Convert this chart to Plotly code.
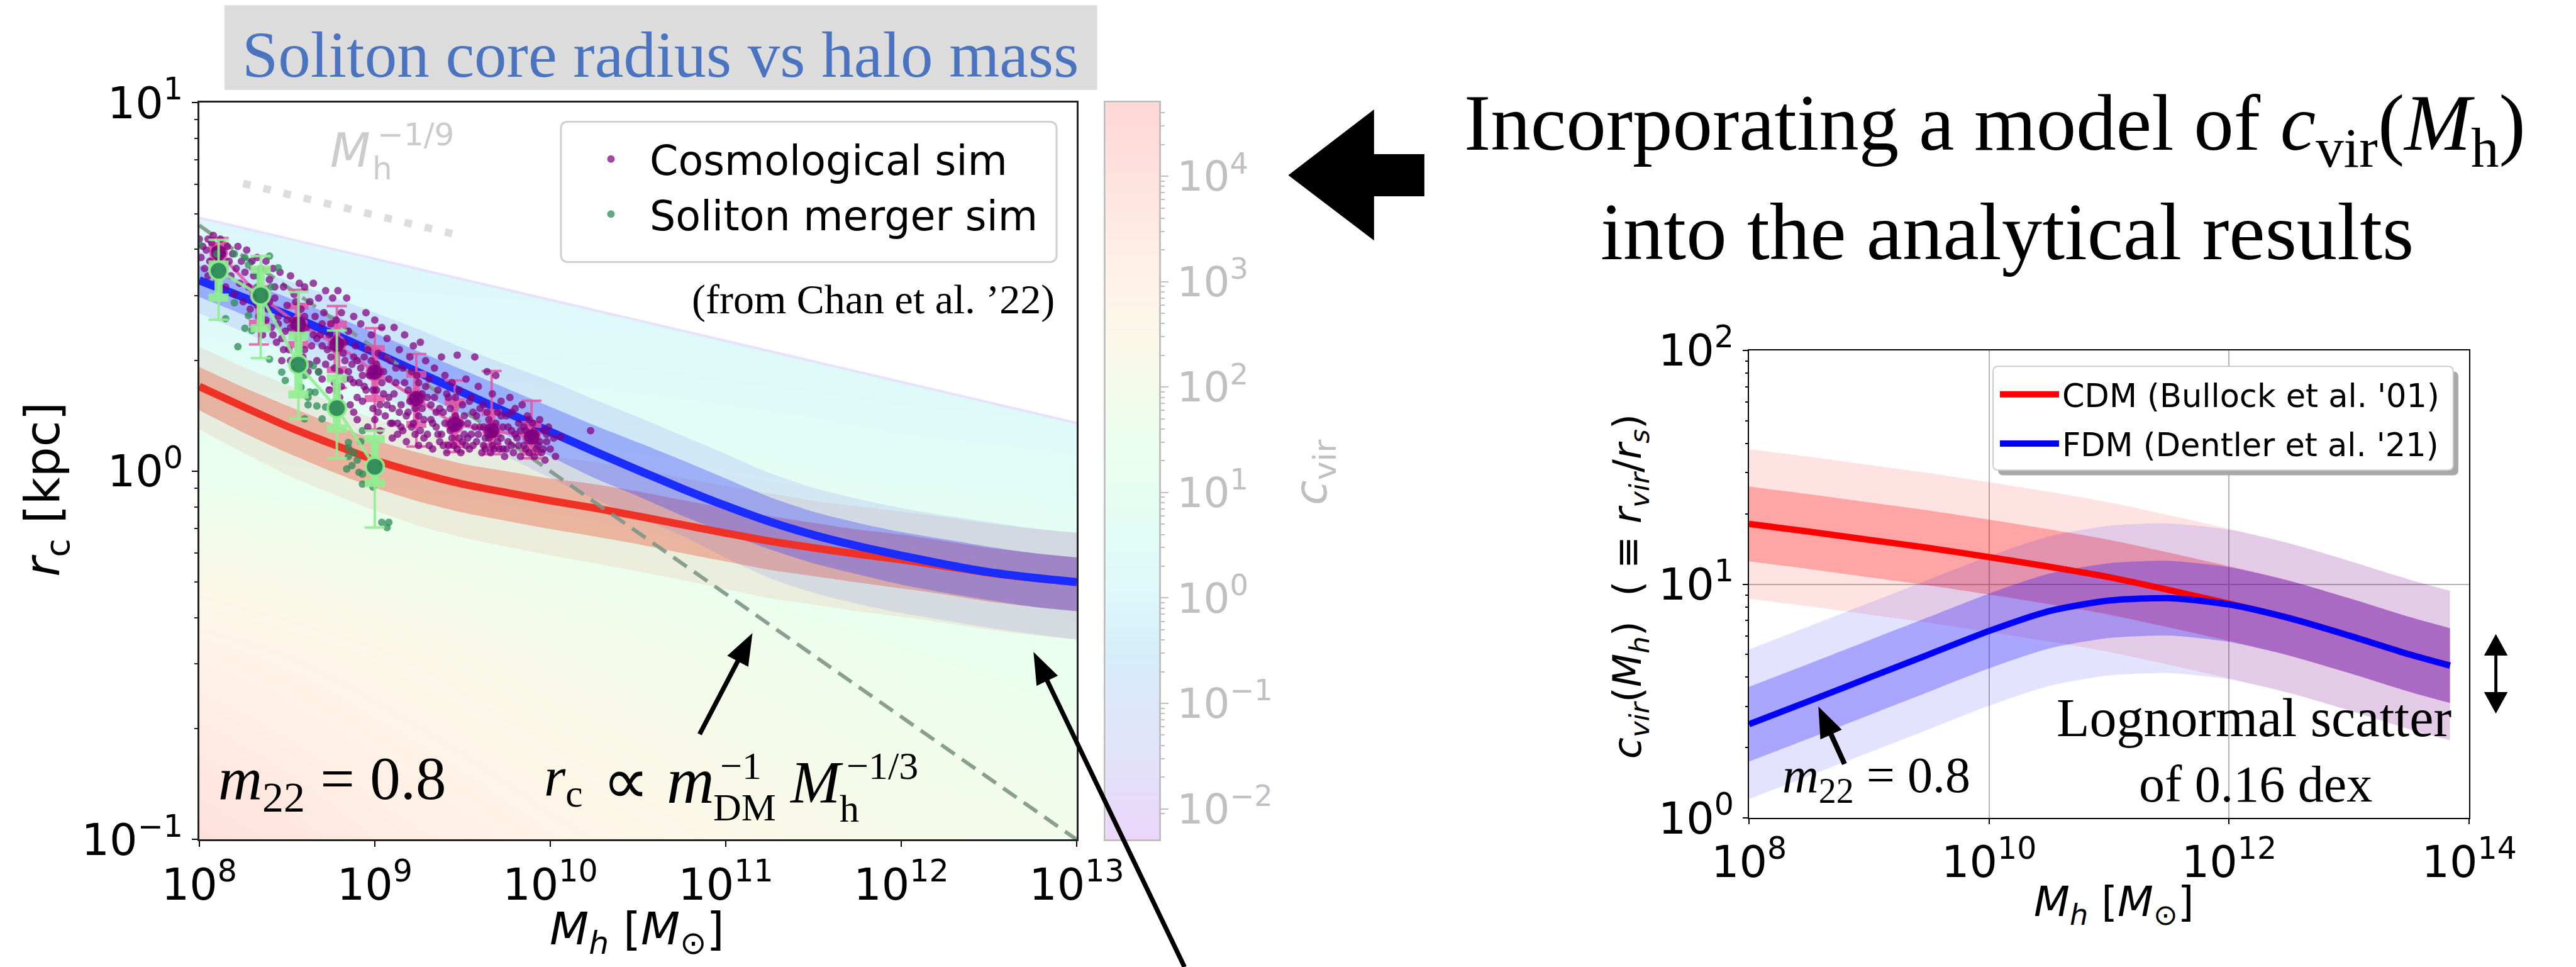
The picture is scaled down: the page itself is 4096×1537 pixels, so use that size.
import plotly.graph_objects as go

# ---------- data (log10 values) ----------
LOG_M = [8,8.25,8.5,8.75,9,9.25,9.5,9.75,10,10.25,10.5,10.75,11,11.25,11.5,11.75,12,12.25,12.5,12.75,13]
BLUE_MID = [.518,.472,.425,.375,.322,.268,.214,.160,.107,.054,.003,-.047,-.094,-.137,-.173,-.203,-.229,-.253,-.274,-.289,-.301]
BLUE_IN_UP = [.558,.515,.472,.425,.375,.325,.275,.225,.175,.125,.078,.030,-.020,-.070,-.110,-.140,-.165,-.185,-.205,-.222,-.234]
BLUE_IN_LO = [.473,.425,.375,.325,.270,.212,.155,.098,.040,-.018,-.068,-.120,-.168,-.212,-.250,-.280,-.308,-.330,-.350,-.368,-.380]
BLUE_OUT_UP = [.598,.558,.518,.475,.430,.385,.335,.290,.245,.195,.147,.097,.047,-.005,-.045,-.075,-.100,-.120,-.138,-.155,-.167]
BLUE_OUT_LO = [.428,.378,.325,.270,.212,.155,.097,.040,-.018,-.075,-.125,-.175,-.235,-.290,-.330,-.360,-.385,-.405,-.425,-.442,-.457]
RED_MID = [.23,.175,.122,.075,.03,-.005,-.035,-.058,-.08,-.10,-.122,-.145,-.168,-.19,-.208,-.225,-.24,-.258,-.276,-.29,-.301]
RED_IN_UP = [.283,.228,.178,.130,.085,.050,.020,.000,-.020,-.035,-.055,-.078,-.100,-.122,-.140,-.158,-.172,-.190,-.208,-.222,-.234]
RED_IN_LO = [.165,.105,.050,.000,-.045,-.082,-.112,-.135,-.157,-.177,-.198,-.222,-.245,-.268,-.285,-.302,-.318,-.335,-.354,-.368,-.380]
RED_OUT_UP = [.338,.283,.235,.190,.142,.108,.080,.060,.040,.025,.005,-.018,-.040,-.060,-.080,-.095,-.110,-.125,-.142,-.156,-.167]
RED_OUT_LO = [.113,.050,-.010,-.060,-.107,-.148,-.180,-.205,-.228,-.250,-.272,-.295,-.320,-.345,-.362,-.380,-.395,-.412,-.430,-.445,-.457]

TOP_EDGE_M = [8, 13]
TOP_EDGE_R = [.688, .131]

# background concentration map: log10 cvir on a coarse (log M, log r) grid
MAP_M = [8, 9, 10, 11, 12, 13]
MAP_R = [-1, -.5, -.25, 0, .25, .5, 1]
MAP_Z = [
    [4.1, 3.4, 2.9, 2.5, 2.2, 2.0],
    [3.0, 2.6, 2.2, 1.9, 1.6, 1.4],
    [2.3, 2.0, 1.7, 1.4, 1.2, 1.0],
    [1.4, 1.2, 1.0, .8, .6, .5],
    [.7, .5, .4, .3, .2, .15],
    [.1, .05, 0, 0, 0, 0],
    [-.3, -.3, -.3, -.3, -.3, -.3],
]
CBAR_LOW, CBAR_HIGH = -2.292, 4.697
CBAR_COLORS = [(-2.292,'#ecd6fc'),(-2,'#e8dafa'),(-1.5,'#e2e2fa'),(-1,'#dde8fa'),(-.5,'#d4eefa'),(0,'#dcf8fa'),
               (.5,'#e0fcf6'),(1,'#e6fef2'),(1.5,'#eaffef'),(2,'#f4fbea'),(2.5,'#fbf8e8'),(3,'#fff2e6'),(4,'#ffe2dc'),(4.697,'#ffd6d6')]

COSMO_POINTS = [
(8.00,.63),(8.01,.58),(8.02,.61),(8.03,.55),(8.04,.60),(8.05,.63),(8.05,.53),(8.06,.57),(8.07,.62),(8.08,.64),(8.08,.55),(8.09,.60),
(8.10,.52),(8.11,.57),(8.12,.63),(8.13,.59),(8.14,.55),(8.15,.50),(8.16,.61),(8.17,.57),(8.18,.53),(8.19,.59),(8.20,.48),(8.21,.55),
(8.22,.61),(8.23,.51),(8.24,.57),(8.25,.46),(8.26,.54),(8.27,.60),(8.28,.50),(8.29,.44),(8.30,.57),(8.31,.53),(8.32,.47),(8.33,.58),
(8.34,.42),(8.35,.55),(8.36,.37),(8.37,.49),(8.38,.57),(8.39,.44),(8.40,.52),(8.41,.39),(8.42,.55),(8.43,.47),(8.44,.35),(8.45,.42),
(8.46,.54),(8.47,.30),(8.48,.50),(8.49,.38),(8.50,.45),(8.51,.33),(8.52,.53),(8.53,.41),(8.54,.48),(8.55,.28),(8.56,.36),(8.57,.51),
(8.58,.44),(8.59,.31),(8.60,.50),(8.61,.39),(8.62,.27),(8.63,.46),(8.64,.34),(8.65,.51),(8.66,.42),(8.67,.30),(8.68,.47),(8.69,.37),
(8.70,.25),(8.71,.43),(8.72,.49),(8.73,.33),(8.74,.22),(8.75,.40),(8.76,.47),(8.77,.28),(8.78,.36),(8.79,.49),(8.80,.20),(8.81,.43),
(8.82,.32),(8.83,.25),(8.84,.47),(8.85,.38),(8.86,.18),(8.87,.29),(8.88,.42),(8.89,.34),(8.90,.14),(8.91,.24),(8.92,.40),(8.93,.19),
(8.94,.31),(8.95,.43),(8.96,.12),(8.97,.26),(8.98,.37),(8.99,.17),(9.00,.41),(9.01,.22),(9.02,.32),(9.03,.11),(9.04,.39),(9.05,.27),
(9.06,.15),(9.07,.36),(9.08,.20),(9.09,.30),(9.10,.09),(9.11,.39),(9.12,.24),(9.13,.13),(9.14,.33),(9.15,.18),(9.16,.28),(9.17,.37),
(9.18,.08),(9.19,.22),(9.20,.31),(9.21,.12),(9.22,.34),(9.23,.17),(9.24,.26),(9.25,.07),(9.26,.35),(9.27,.21),(9.28,.14),(9.29,.30),
(9.30,.10),(9.31,.25),(9.32,.18),(9.33,.06),(9.34,.28),(9.35,.12),(9.36,.22),(9.37,.08),(9.38,.31),(9.39,.16),(9.40,.26),(9.41,.05),
(9.42,.20),(9.43,.11),(9.44,.24),(9.45,.07),(9.46,.15),(9.47,.315),(9.48,.22),(9.49,.05),(9.50,.18),(9.51,.10),(9.52,.25),(9.53,.13),
(9.54,.06),(9.55,.20),(9.56,.16),(9.57,.31),(9.58,.08),(9.59,.23),(9.60,.12),(9.61,.05),(9.62,.18),(9.63,.09),(9.64,.27),(9.65,.14),
(9.66,.05),(9.67,.21),(9.68,.10),(9.69,.26),(9.70,.16),(9.71,.06),(9.72,.19),(9.73,.12),(9.74,.04),(9.75,.15),(9.76,.08),(9.77,.20),
(9.78,.11),(9.79,.05),(9.80,.17),(9.81,.09),(9.82,.13),(9.83,.04),(9.84,.18),(9.85,.07),(9.86,.11),(9.87,.15),(9.88,.05),(9.89,.09),
(9.90,.13),(9.91,.04),(9.92,.10),(9.93,.07),(9.94,.14),(9.95,.05),(9.96,.11),(9.97,.03),(9.98,.08),(9.99,.12),(10.00,.06),(10.02,.09),
(10.03,.04),(10.06,.093),(10.23,.11),(8.35,.48),(8.45,.40),(8.55,.46),(8.65,.37),(8.75,.31),(8.85,.27),(8.95,.22),(9.05,.21),(9.15,.12),
(9.25,.15),(9.35,.16),(9.45,.12),(9.55,.10),(9.65,.09),(9.75,.06),(9.85,.12),(9.25,.24),(9.10,.17),(9.00,.27),(8.90,.30),(8.80,.27),
(8.40,.46),(8.50,.41),(8.60,.42),(8.70,.34),(8.78,.41),(8.88,.24),(8.98,.30),(9.08,.25),(9.18,.15),(9.28,.09),(9.38,.10),(9.48,.09),
(9.58,.15),(9.68,.06),(9.78,.16),(9.88,.10),(9.30,.20),(9.20,.19),(9.10,.13),(9.00,.14),(8.90,.20),(8.80,.35),(8.70,.40),(8.60,.33),
(9.42,.07),(9.52,.07),(9.62,.07),(9.72,.09),(9.82,.07),(9.92,.06),(9.33,.13),(9.23,.10),(9.13,.10),(9.03,.18),(8.93,.26),(8.83,.30),
(8.33,.45),(8.38,.41),(8.43,.50),(8.47,.36),(8.52,.39),(8.57,.30),(8.58,.38),(8.63,.29),(8.67,.36),(8.72,.29),(8.74,.37),(8.77,.24),
(8.81,.23),(8.83,.35),(8.86,.25),(8.88,.31),(8.92,.28),(8.94,.23),(8.96,.33),(8.99,.22),(9.01,.29),(9.02,.16),(9.04,.24),(9.06,.31),
(9.07,.18),(9.09,.13),(9.11,.21),(9.12,.28),(9.14,.16),(9.16,.11),(9.17,.24),(9.19,.16),(9.21,.27),(9.22,.13),(9.24,.20),(9.26,.11),
(9.27,.17),(9.29,.23),(9.31,.07),(9.32,.14),(9.34,.20),(9.36,.10),(9.37,.17),(9.39,.07),(9.40,.13),(9.41,.21),(9.43,.17),(9.44,.09),
(9.46,.20),(9.47,.06),(9.49,.13),(9.50,.08),(9.51,.15),(9.53,.09),(9.54,.19),(9.56,.07),(9.57,.12),(9.59,.10),(9.60,.17),(9.62,.12),
(9.63,.06),(9.64,.16),(9.66,.11),(9.67,.07),(9.69,.13),(9.70,.08),(9.72,.15),(9.73,.06),(9.76,.12),(9.78,.07),(9.80,.10),(9.83,.11),
(9.86,.06),(9.88,.14),(9.91,.11),(9.94,.08),(9.96,.06),(9.98,.10),(8.52,.30),(8.48,.33),(8.42,.37),(8.68,.27),(8.78,.22),(8.88,.16),
]
MERGER_POINTS = [
(8.00,.616),(8.10,.59),(8.20,.59),(8.26,.58),(8.40,.584),(8.45,.552),(8.15,.414),(8.20,.457),(8.26,.388),(8.30,.382),(8.22,.338),(8.28,.422),
(8.35,.416),(8.40,.304),(8.47,.269),(8.49,.246),(8.62,.20),(8.62,.18),(8.67,.177),(8.72,.174),(8.70,.142),(8.60,.142),(8.58,.228),(8.65,.286),
(8.68,.269),(8.66,.214),(8.63,.215),(8.93,.11),(8.85,.078),(8.85,.064),(8.85,.04),(8.84,.006),(8.87,.015),(8.93,-.008),(8.91,-.003),(8.93,-.035),
(8.99,-.043),(9.04,-.139),(9.08,-.139),(9.07,-.153),(8.33,.50),(8.41,.50),(8.33,.53),(8.28,.56),(8.36,.47),(8.57,.33),(8.60,.26),(8.88,.05),
(8.92,.08),(8.90,.03),
]
PINK_M = [8.11,8.34,8.565,8.784,9.0,9.237,9.456,9.666,9.893]
PINK_R = [.593,.477,.399,.344,.269,.197,.127,.110,.093]
PINK_OUT_UP = [.633,.549,.492,.448,.388,.318,.246,.272,.191]
PINK_IN_UP = [.613,.495,.448,.399,.333,.263,.188,.159,.127]
PINK_IN_LO = [.570,.402,.344,.275,.197,.127,.072,.067,.052]
PINK_OUT_LO = [.552,.344,.298,.226,.113,.067,.052,.046,.035]
GREEN_M = [8.11,8.35,8.565,8.784,9.0]
GREEN_R = [.544,.477,.289,.171,.012]
GREEN_OUT_UP = [.628,.584,.486,.382,.110]
GREEN_IN_UP = [.561,.547,.367,.252,.087]
GREEN_IN_LO = [.471,.388,.208,.116,-.032]
GREEN_OUT_LO = [.411,.307,.142,.035,-.153]

NFW_M = [8, 13]
NFW_R = [.667, -1]
SLOPE_M = [8.25, 9.49]
SLOPE_R = [.781, .639]

C_M = [8,8.5,9,9.5,10,10.5,11,11.5,12,12.5,13,13.5,13.84]
C_CDM = [1.258,1.225,1.19,1.155,1.116,1.075,1.03,.975,.917,.855,.78,.70,.652]
C_FDM = [.401,.50,.60,.70,.80,.885,.93,.94,.913,.855,.78,.70,.652]
SCATTER_DEX = [.16, .32]

# ---------- helpers ----------
S = 4096/5015
def X(v): return v/5015
def Y(v): return 1-v/1882
def P(l): return [10**v for v in l]
SANS = "DejaVu Sans"
SERIF = "Liberation Serif"
SPL = dict(shape='spline', smoothing=.7)

fig = go.Figure()
def band(xs, lo, hi, color, xa='x', ya='y'):
    fig.add_trace(go.Scatter(x=P(xs), y=P(lo), mode='lines', line=dict(width=0, color='rgba(0,0,0,0)', **SPL),
        showlegend=False, hoverinfo='skip', xaxis=xa, yaxis=ya))
    fig.add_trace(go.Scatter(x=P(xs), y=P(hi), mode='lines', line=dict(width=0, color='rgba(0,0,0,0)', **SPL), fill='tonexty', fillcolor=color,
        showlegend=False, hoverinfo='skip', xaxis=xa, yaxis=ya))

cs = [[(v-CBAR_LOW)/(CBAR_HIGH-CBAR_LOW), c] for v, c in CBAR_COLORS]

# colour map + mask
fig.add_trace(go.Heatmap(x=P(MAP_M), y=P(MAP_R), z=MAP_Z, zsmooth='best', colorscale=cs,
    zmin=CBAR_LOW, zmax=CBAR_HIGH, showscale=False, hoverinfo='skip'))
fig.add_trace(go.Scatter(x=P(TOP_EDGE_M)+[1e13,1e8], y=P(TOP_EDGE_R)+[10,10], fill='toself', fillcolor='white',
    mode='none', showlegend=False, hoverinfo='skip'))
fig.add_trace(go.Scatter(x=P(TOP_EDGE_M), y=P(TOP_EDGE_R), mode='lines', line=dict(color='rgba(232,222,252,0.9)', width=4),
    showlegend=False, hoverinfo='skip'))

# bands
band(LOG_M, RED_OUT_LO, RED_OUT_UP, 'rgba(235,90,60,0.11)')
band(LOG_M, RED_IN_LO, RED_IN_UP, 'rgba(235,60,30,0.32)')
band(LOG_M, BLUE_OUT_LO, BLUE_OUT_UP, 'rgba(70,80,255,0.12)')
band(LOG_M, BLUE_IN_LO, BLUE_IN_UP, 'rgba(50,60,255,0.33)')
fig.add_trace(go.Scatter(x=P(LOG_M), y=P(RED_MID), mode='lines', line=dict(color='#f03226', width=12, **SPL), showlegend=False, hoverinfo='skip'))
fig.add_trace(go.Scatter(x=P(LOG_M), y=P(BLUE_MID), mode='lines', line=dict(color='#1a2cff', width=13, **SPL), showlegend=False, hoverinfo='skip'))

# reference slopes
fig.add_trace(go.Scatter(x=P(NFW_M), y=P(NFW_R), mode='lines', line=dict(color='rgba(125,150,135,0.9)', width=6, dash='26px,14px'), showlegend=False, hoverinfo='skip'))
fig.add_trace(go.Scatter(x=P(SLOPE_M), y=P(SLOPE_R), mode='lines', line=dict(color='#dddddd', width=12, dash='12px,21px'), showlegend=False, hoverinfo='skip'))

def binned(mx, my, ou, iu, il, ol, col, fillc, lw, size, thick):
    ys = P(my)
    fig.add_trace(go.Scatter(x=P(mx), y=ys, mode='markers', marker=dict(size=1, color=col), showlegend=False, hoverinfo='skip',
        error_y=dict(type='data', symmetric=False, array=[a-b for a, b in zip(P(ou), ys)], arrayminus=[b-a for a, b in zip(P(ol), ys)],
                     color=col, thickness=4, width=16)))
    fig.add_trace(go.Scatter(x=P(mx), y=ys, mode='lines+markers', line=dict(color=col, width=5),
        marker=dict(size=size, color=fillc, line=dict(color=col, width=lw)), showlegend=False, hoverinfo='skip',
        error_y=dict(type='data', symmetric=False, array=[a-b for a, b in zip(P(iu), ys)], arrayminus=[b-a for a, b in zip(P(il), ys)],
                     color=col, thickness=thick, width=16)))

# binned pink bars sit under part of the purple cloud, so the cloud stays dominant
binned(PINK_M, PINK_R, PINK_OUT_UP, PINK_IN_UP, PINK_IN_LO, PINK_OUT_LO, 'rgba(228,85,165,0.85)', 'rgba(128,0,128,0.92)', 3, 27, 11)
fig.add_trace(go.Scatter(x=[10**p[0] for p in COSMO_POINTS], y=[10**p[1] for p in COSMO_POINTS], mode='markers',
    name='Cosmological sim', legendgroup='a', marker=dict(color='#800080', size=12, opacity=.72), hoverinfo='skip'))
fig.add_trace(go.Scatter(x=[10**p[0] for p in MERGER_POINTS], y=[10**p[1] for p in MERGER_POINTS], mode='markers',
    name='Soliton merger sim', legendgroup='b', marker=dict(color='#2e8b57', size=12, opacity=.75), hoverinfo='skip'))
binned(GREEN_M, GREEN_R, GREEN_OUT_UP, GREEN_IN_UP, GREEN_IN_LO, GREEN_OUT_LO, 'rgba(144,238,144,0.9)', 'rgba(46,139,87,0.95)', 4, 29, 13)

# right panel
for i, d in enumerate(SCATTER_DEX[::-1]):
    a = .11 if i == 0 else .27
    band(C_M, [v-d for v in C_CDM], [v+d for v in C_CDM], f'rgba(255,0,0,{a})', 'x2', 'y2')
for i, d in enumerate(SCATTER_DEX[::-1]):
    a = .11 if i == 0 else .27
    band(C_M, [v-d for v in C_FDM], [v+d for v in C_FDM], f'rgba(0,0,255,{a})' if i == 0 else f'rgba(20,0,255,{a})', 'x2', 'y2')
fig.add_trace(go.Scatter(x=P(C_M), y=P(C_CDM), mode='lines', name="CDM (Bullock et al. '01)", legend='legend2', legendgroup='c',
    line=dict(color='#ff0000', width=10, **SPL), xaxis='x2', yaxis='y2', hoverinfo='skip'))
fig.add_trace(go.Scatter(x=P(C_M), y=P(C_FDM), mode='lines', name="FDM (Dentler et al. '21)", legend='legend2', legendgroup='d',
    line=dict(color='#0000ff', width=10, **SPL), xaxis='x2', yaxis='y2', hoverinfo='skip'))

# colour bar
fig.add_trace(go.Heatmap(x=[0, 1], y=[10**CBAR_LOW, 10**CBAR_HIGH], z=[[CBAR_LOW, CBAR_LOW], [CBAR_HIGH, CBAR_HIGH]],
    zsmooth='best', colorscale=cs, zmin=CBAR_LOW, zmax=CBAR_HIGH, showscale=False, hoverinfo='skip', xaxis='x3', yaxis='y3'))

def dec(lo, hi):
    return [m*10**e for e in range(lo, hi) for m in range(2, 10)]
def lab(e):
    return "10<sup>%s</sup>" % (str(e).replace('-', '\u2212'))
TICK = dict(family=SANS, size=70, color='black')

def shape_poly(pts, color='black', layer='above', lw=0):
    path = 'M ' + ' L '.join(f'{X(a):.5f},{Y(b):.5f}' for a, b in pts) + ' Z'
    return dict(type='path', xref='paper', yref='paper', path=path, fillcolor=color, line=dict(width=lw, color=color), layer=layer)

def arrow(x0, y0, x1, y1, w, hl, hw):
    import math
    L = math.hypot(x1-x0, y1-y0); ux, uy = (x1-x0)/L, (y1-y0)/L; nx, ny = -uy, ux
    bx, by = x1-ux*hl, y1-uy*hl
    return shape_poly([(x0+nx*w/2, y0+ny*w/2), (bx+nx*w/2, by+ny*w/2), (bx+nx*hw/2, by+ny*hw/2), (x1, y1),
                       (bx-nx*hw/2, by-ny*hw/2), (bx-nx*w/2, by-ny*w/2), (x0-nx*w/2, y0-ny*w/2)])

def rrect(x0, y0, x1, y1, r, fill, line, lw):
    path = (f'M {X(x0+r)},{Y(y0)} L {X(x1-r)},{Y(y0)} Q {X(x1)},{Y(y0)} {X(x1)},{Y(y0+r)} L {X(x1)},{Y(y1-r)} Q {X(x1)},{Y(y1)} {X(x1-r)},{Y(y1)} '
            f'L {X(x0+r)},{Y(y1)} Q {X(x0)},{Y(y1)} {X(x0)},{Y(y1-r)} L {X(x0)},{Y(y0+r)} Q {X(x0)},{Y(y0)} {X(x0+r)},{Y(y0)} Z')
    return dict(type='path', xref='paper', yref='paper', path=path, fillcolor=fill, line=dict(color=line, width=lw), layer='above')

shapes = [
    dict(type='rect', xref='paper', yref='paper', x0=X(437), x1=X(2136), y0=Y(175), y1=Y(10), fillcolor='#dcdcdc', line=dict(width=0), layer='below'),
    rrect(1092, 237, 2057, 510, 14, 'white', '#d0d0d0', 3),
    rrect(3890, 723, 4786, 925, 10, '#a8a8a8', '#a8a8a8', 0),
    rrect(3880, 713, 4776, 915, 10, 'white', '#cccccc', 2),
    shape_poly([(2508,341),(2675,213),(2675,300),(2773,300),(2773,382),(2675,382),(2675,468)]),
    arrow(1362,1429,1465,1232,9,62,46),
    arrow(2306,1882,2012,1269,9,62,46),
    arrow(3591,1487,3540,1375,10,60,46),
    shape_poly([(4859,1234),(4882,1276),(4862,1276),(4862,1347),(4882,1347),(4859,1389),(4836,1347),(4856,1347),(4856,1276),(4836,1276)]),
]

def text(x, base, s, size, color='black', family=SERIF, anchor='left', desc=.216):
    return dict(xref='paper', yref='paper', x=X(x), y=Y(base)-desc*size/1537, text=s, showarrow=False, xanchor=anchor, yanchor='bottom',
                font=dict(family=family, size=size, color=color), borderpad=0, align='left')
def rot(x, y, s, size, color='black'):
    return dict(xref='paper', yref='paper', x=X(x), y=Y(y), text=s, showarrow=False, xanchor='center', yanchor='middle', textangle=-90,
                font=dict(family=SANS, size=size, color=color), borderpad=0)

annos = [
    text(1286, 150, 'Soliton core radius vs halo mass', 103, color='#4a74bf', anchor='center'),
    text(3884, 315, 'Incorporating a model of <i>c</i><sub>vir</sub>(<i>M</i><sub>h</sub>)', 127, anchor='center'),
    text(3908, 506, 'into the analytical results', 129, anchor='center'),
    text(1345, 612, "(from Chan et al. \u201922)", 66),
    text(642, 325, '<i>M</i>', 74, color='#cccccc', family=SANS, desc=.236),
    text(723, 351, 'h', 50, color='#cccccc', family=SANS, desc=.236),
    text(733, 284, '\u22121/9', 50, color='#cccccc', family=SANS, desc=.236),
    text(424, 1573, '<i>m</i><sub>22</sub> = 0.8', 97),
    text(1058, 1564, '<i>r</i><sub>c</sub>', 88),
    text(1172, 1564, '\u221d', 104),
    text(1296, 1564, '<i>m</i>', 105),
    text(1401, 1517, '\u22121', 62),
    text(1387, 1598, 'DM', 62),
    text(1535, 1564, '<i>M</i>', 95),
    text(1633, 1600, 'h', 62),
    text(1647, 1517, '\u22121/3', 62),
    text(4003, 1434, 'Lognormal scatter', 86),
    text(4391, 1561, 'of 0.16 dex', 82, anchor='center'),
    text(3469, 1557, '<i>m</i><sub>22</sub> = 0.8', 80),
    text(1240, 1851, '<i>M<sub>h</sub></i> [<i>M</i><sub>\u2299</sub>]', 72, family=SANS, anchor='center', desc=.236),
    text(4115, 1795, '<i>M<sub>h</sub></i> [<i>M</i><sub>\u2299</sub>]', 66, family=SANS, anchor='center', desc=.236),
    rot(90, 953, '<i>r</i><sub>c</sub> [kpc]', 76),
    rot(3173, 1142, '<i>c<sub>vir</sub></i>(<i>M<sub>h</sub></i>)  ( \u2261 <i>r<sub>vir</sub></i>/<i>r<sub>s</sub></i>)', 62),
    rot(2557, 919, '<i>c</i><sub>vir</sub>', 72, color='#c0c0c0'),
]

fig.update_layout(
    width=4096, height=1537, autosize=False, margin=dict(l=0, r=0, t=0, b=0),
    paper_bgcolor='white', plot_bgcolor='white', shapes=shapes, annotations=annos,
    xaxis=dict(type='log', domain=[X(388), X(2096)], range=[8, 13], anchor='y', showgrid=False, zeroline=False, automargin=False,
        tickvals=P(range(8, 14)), ticktext=[lab(e) for e in range(8, 14)], ticks='outside', ticklen=9, tickwidth=2, tickcolor='black',
        showline=True, linecolor='#222222', linewidth=3, mirror=True, tickfont=TICK, layer='above traces'),
    yaxis=dict(type='log', domain=[Y(1634), Y(200)], range=[-1, 1], anchor='x', showgrid=False, zeroline=False, automargin=False,
        tickvals=[.1, 1, 10], ticktext=[lab(-1), lab(0), lab(1)], ticks='outside', ticklen=9, tickwidth=2, tickcolor='black',
        minor=dict(tickvals=dec(-1, 1), ticks='outside', ticklen=5, tickwidth=2, tickcolor='#222222', showgrid=False),
        showline=True, linecolor='#222222', linewidth=3, mirror=True, tickfont=TICK, layer='above traces'),
    xaxis2=dict(type='log', domain=[X(3405), X(4807)], range=[8, 14], anchor='y2', showgrid=True, gridcolor='#b4b4b4', gridwidth=2, zeroline=False, automargin=False,
        tickvals=[1e8, 1e10, 1e12, 1e14], ticktext=[lab(e) for e in (8, 10, 12, 14)], ticks='outside', ticklen=8, tickwidth=2, tickcolor='black',
        showline=True, linecolor='black', linewidth=2, mirror=True, tickfont=TICK),
    yaxis2=dict(type='log', domain=[Y(1592), Y(682)], range=[0, 2], anchor='x2', showgrid=True, gridcolor='#b4b4b4', gridwidth=2, zeroline=False, automargin=False,
        tickvals=[1, 10, 100], ticktext=[lab(0), lab(1), lab(2)], ticks='outside', ticklen=8, tickwidth=2, tickcolor='black',
        minor=dict(tickvals=dec(0, 2), ticks='outside', ticklen=4, tickwidth=2, tickcolor='black', showgrid=False),
        showline=True, linecolor='black', linewidth=2, mirror=True, tickfont=TICK),
    xaxis3=dict(domain=[X(2153), X(2257)], range=[0, 1], anchor='y3', visible=True, showticklabels=False, ticks='', showgrid=False, zeroline=False, automargin=False,
        showline=True, linecolor='#c0c0c0', linewidth=3, mirror=True),
    yaxis3=dict(type='log', domain=[Y(1634), Y(200)], range=[CBAR_LOW, CBAR_HIGH], anchor='x3', side='right', showgrid=False, zeroline=False, automargin=False,
        tickvals=P(range(-2, 5)), ticktext=[lab(e) for e in range(-2, 5)], ticks='outside', ticklen=12, tickwidth=2, tickcolor='#c0c0c0',
        minor=dict(tickvals=dec(-3, 5)[8-1:], ticks='outside', ticklen=6, tickwidth=2, tickcolor='#c0c0c0', showgrid=False),
        showline=True, linecolor='#c0c0c0', linewidth=3, mirror=True, tickfont=dict(family=SANS, size=66, color='#c0c0c0')),
    legend=dict(x=910/4096, y=1-204/1537, xanchor='left', yanchor='top', bgcolor='rgba(0,0,0,0)', borderwidth=0, itemwidth=113,
        tracegroupgap=24, font=dict(family=SANS, size=65, color='black'), traceorder='normal'),
    legend2=dict(x=3175/4096, y=1-587/1537, xanchor='left', yanchor='top', bgcolor='rgba(0,0,0,0)', borderwidth=0, itemwidth=94,
        tracegroupgap=9, font=dict(family=SANS, size=51, color='black')),
)
fig.write_html("out.html", config=dict(displayModeBar=False),
               post_script="document.body.style.margin='0';document.documentElement.style.overflow='hidden';")
